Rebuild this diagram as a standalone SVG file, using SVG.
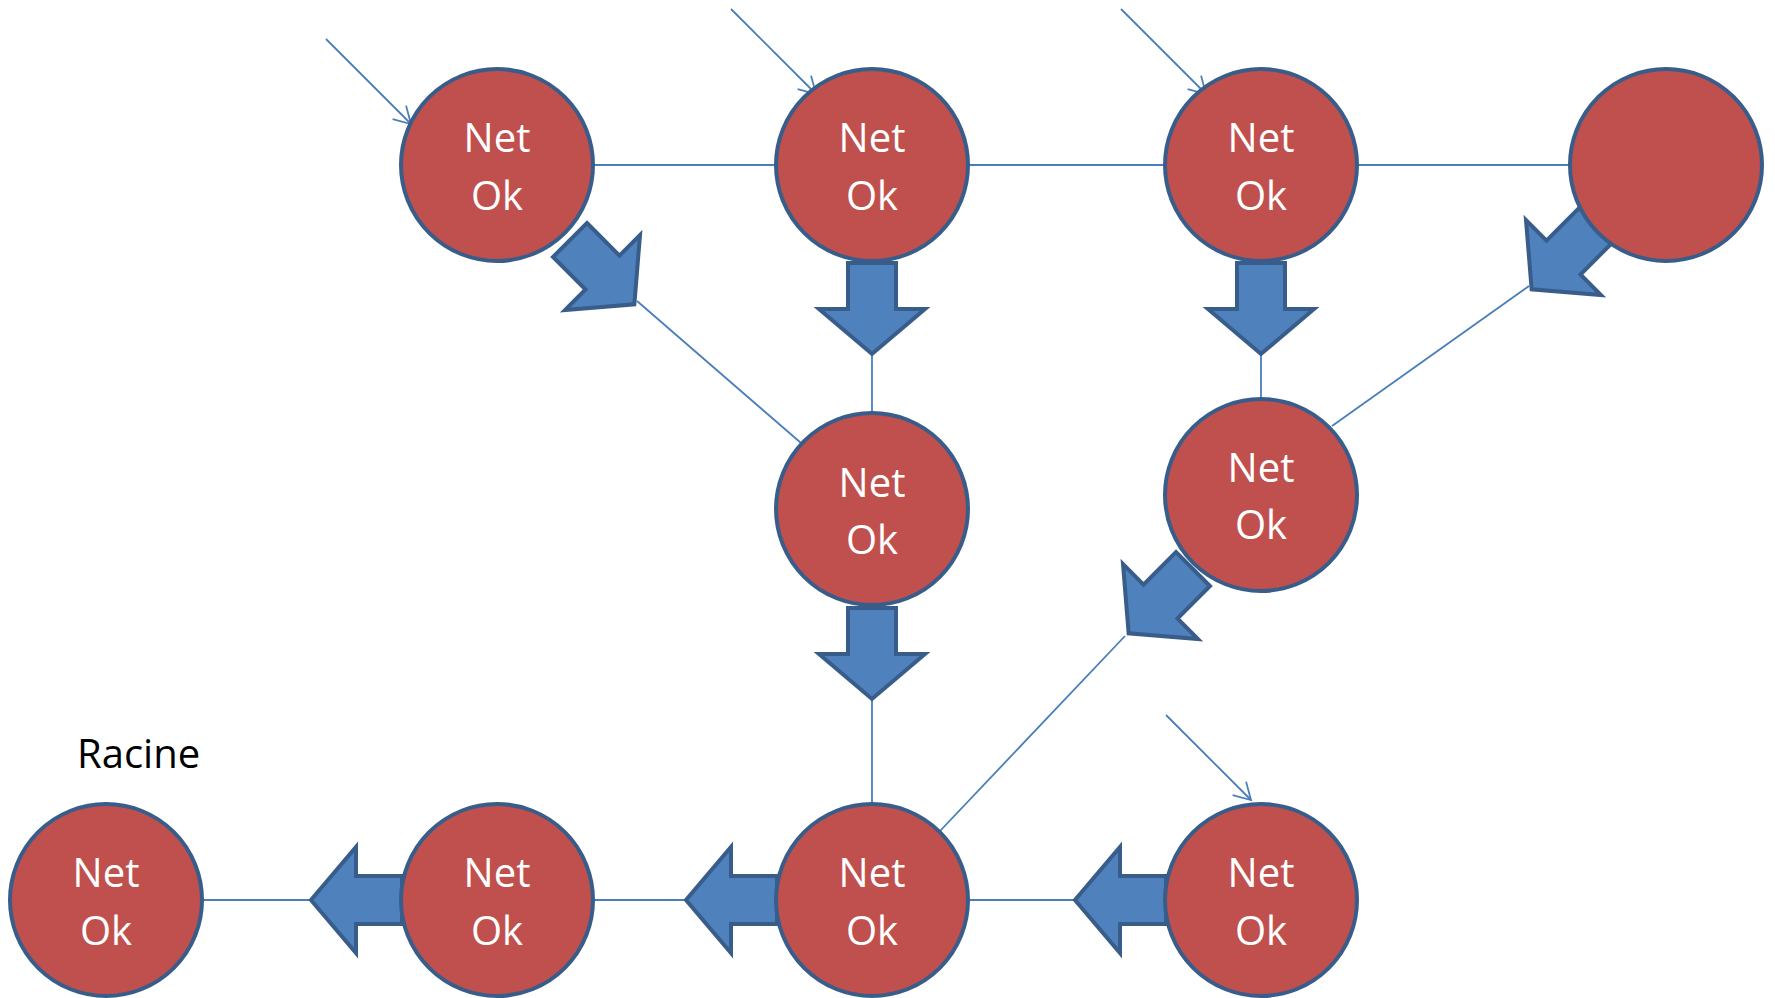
<svg xmlns="http://www.w3.org/2000/svg" width="1775" height="998" viewBox="0 0 1775 998">
<style>
.node circle{fill:#c0504d;stroke:#385d8a;stroke-width:4}
.node text{font-family:"Open Sans","Liberation Sans",sans-serif;font-size:40px;fill:#ffffff;text-anchor:middle}
.lbl{font-family:"Open Sans","Liberation Sans",sans-serif;font-size:40px;fill:#000000}
.ln{stroke:#4a7ebb;stroke-width:1.8;fill:none}
.big{fill:#4f81bd;stroke:#385d8a;stroke-width:4;stroke-linejoin:miter}
</style>
<defs>
<marker id="open" viewBox="-20 -12 24 24" refX="0" refY="0" markerWidth="24" markerHeight="24" markerUnits="userSpaceOnUse" orient="auto">
<path d="M-16.5,-9.5 L0,0 L-16.5,9.5" fill="none" stroke="#4a7ebb" stroke-width="1.8"/>
</marker>
<path id="blk" d="M0,-24 L46,-24 L46,-53 L91,0 L46,53 L46,24 L0,24 Z"/>
</defs>
<g id="connectors">
<line class="ln" x1="594" y1="165" x2="775" y2="165"/>
<line class="ln" x1="969" y1="165" x2="1164" y2="165"/>
<line class="ln" x1="1358" y1="165" x2="1569" y2="165"/>
<line class="ln" x1="872" y1="354" x2="872" y2="412"/>
<line class="ln" x1="1261" y1="354" x2="1261" y2="398"/>
<line class="ln" x1="872" y1="700" x2="872" y2="803"/>
<line class="ln" x1="637" y1="301" x2="801" y2="443"/>
<line class="ln" x1="1529" y1="286" x2="1332" y2="426"/>
<line class="ln" x1="1125" y1="636" x2="940" y2="831"/>
<line class="ln" x1="203" y1="900" x2="310" y2="900"/>
<line class="ln" x1="593" y1="900" x2="685" y2="900"/>
<line class="ln" x1="969" y1="900" x2="1074" y2="900"/>
<line class="ln" x1="326" y1="39" x2="411" y2="124" marker-end="url(#open)"/>
<line class="ln" x1="731" y1="9" x2="816" y2="94" marker-end="url(#open)"/>
<line class="ln" x1="1121" y1="9" x2="1206" y2="94" marker-end="url(#open)"/>
<line class="ln" x1="1166" y1="715" x2="1251" y2="800" marker-end="url(#open)"/>
<use href="#blk" class="big" transform="translate(872,263) rotate(90)"/>
<use href="#blk" class="big" transform="translate(1261,263) rotate(90)"/>
<use href="#blk" class="big" transform="translate(872,608) rotate(90)"/>
<use href="#blk" class="big" transform="translate(570,240) rotate(45)"/>
<use href="#blk" class="big" transform="translate(1596,225) rotate(135)"/>
<use href="#blk" class="big" transform="translate(1193,569) rotate(135)"/>
<use href="#blk" class="big" transform="translate(402,900) rotate(180)"/>
<use href="#blk" class="big" transform="translate(777,900) rotate(180)"/>
<use href="#blk" class="big" transform="translate(1166,900) rotate(180)"/>
</g>
<g id="nodeA" class="node"><circle cx="497" cy="165" r="96"/><text x="497" y="152">Net</text><text x="497" y="210">Ok</text></g>
<g id="nodeB" class="node"><circle cx="872" cy="165" r="96"/><text x="872" y="152">Net</text><text x="872" y="210">Ok</text></g>
<g id="nodeC" class="node"><circle cx="1261" cy="165" r="96"/><text x="1261" y="152">Net</text><text x="1261" y="210">Ok</text></g>
<g id="nodeD" class="node"><circle cx="1666" cy="165" r="96"/></g>
<g id="nodeE" class="node"><circle cx="872" cy="509" r="96"/><text x="872" y="497">Net</text><text x="872" y="554">Ok</text></g>
<g id="nodeF" class="node"><circle cx="1261" cy="495" r="96"/><text x="1261" y="482">Net</text><text x="1261" y="539">Ok</text></g>
<g id="nodeG" class="node"><circle cx="106" cy="900" r="96"/><text x="106" y="887">Net</text><text x="106" y="945">Ok</text></g>
<g id="nodeH" class="node"><circle cx="497" cy="900" r="96"/><text x="497" y="887">Net</text><text x="497" y="945">Ok</text></g>
<g id="nodeI" class="node"><circle cx="872" cy="900" r="96"/><text x="872" y="887">Net</text><text x="872" y="945">Ok</text></g>
<g id="nodeJ" class="node"><circle cx="1261" cy="900" r="96"/><text x="1261" y="887">Net</text><text x="1261" y="945">Ok</text></g>
<g id="label-racine"><text class="lbl" x="77" y="768">Racine</text></g>
</svg>
